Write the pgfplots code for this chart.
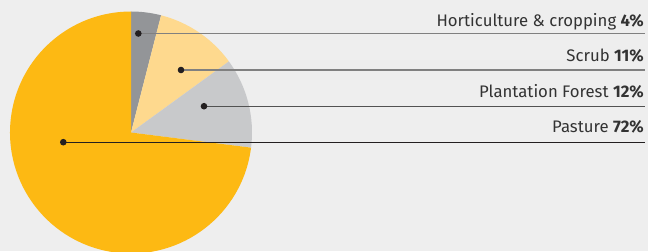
\documentclass[border=0pt]{standalone}
\usepackage{pgfplots}
\pgfplotsset{compat=1.18}
\usepackage{fontspec}
\setmainfont{Fira Sans}
\definecolor{bgcol}{HTML}{EEEEEE}
\definecolor{hortcol}{HTML}{939598}
\definecolor{scrubcol}{HTML}{FED98E}
\definecolor{plantcol}{HTML}{C8C9CB}
\definecolor{pastcol}{HTML}{FDB913}
\definecolor{dotcol}{HTML}{231F20}
\definecolor{txtcol}{HTML}{333333}
\begin{document}
\begin{tikzpicture}
\begin{axis}[x=1bp, y=1bp, xmin=0, xmax=648, ymin=-251, ymax=0,
  hide axis, scale only axis, clip=true]
% background
\fill[bgcol] (axis cs:0,-251) rectangle (axis cs:648,0);
% pie slices (values in percent: 4, 11, 12, 72), clockwise from top
\fill[hortcol]  (axis cs:131,-132.5) -- ++(90:121bp) arc[start angle=90, end angle={90-3.6*4}, radius=121bp] -- cycle;
\fill[scrubcol] (axis cs:131,-132.5) -- ++({90-3.6*4}:121bp) arc[start angle={90-3.6*4}, end angle={90-3.6*15}, radius=121bp] -- cycle;
\fill[plantcol] (axis cs:131,-132.5) -- ++({90-3.6*15}:121bp) arc[start angle={90-3.6*15}, end angle={90-3.6*27}, radius=121bp] -- cycle;
\fill[pastcol]  (axis cs:131,-132.5) -- ++({90-3.6*27}:121bp) arc[start angle={90-3.6*27}, end angle={-270}, radius=121bp] -- cycle;
% leader lines with dots
\addplot[color=black!50, line width=1.3bp, mark=*, mark size=2.6bp, mark indices={1}, mark options={fill=dotcol, draw=dotcol}] coordinates {(138.3,-33.5) (644.5,-33.5)};
\addplot[color=black!50, line width=1.3bp, mark=*, mark size=2.6bp, mark indices={1}, mark options={fill=dotcol, draw=dotcol}] coordinates {(181,-70) (644.5,-70)};
\addplot[color=black!68, line width=1.3bp, mark=*, mark size=2.6bp, mark indices={1}, mark options={fill=dotcol, draw=dotcol}] coordinates {(204,-106.2) (644.5,-106.2)};
\addplot[color=dotcol, line width=1.3bp, mark=*, mark size=2.6bp, mark indices={1}, mark options={fill=dotcol, draw=dotcol}] coordinates {(63.3,-142.2) (644.5,-142.2)};
% labels
\node[anchor=base east, font=\fontsize{16.8}{19}\selectfont, text=txtcol, inner sep=0pt] at (axis cs:644,-26.5) {Horticulture \& cropping \textbf{4\%}};
\node[anchor=base east, font=\fontsize{16.8}{19}\selectfont, text=txtcol, inner sep=0pt] at (axis cs:644,-61.2) {Scrub \textbf{11\%}};
\node[anchor=base east, font=\fontsize{16.8}{19}\selectfont, text=txtcol, inner sep=0pt] at (axis cs:644,-97.6) {Plantation Forest \textbf{12\%}};
\node[anchor=base east, font=\fontsize{16.8}{19}\selectfont, text=txtcol, inner sep=0pt] at (axis cs:644,-132.7) {Pasture \textbf{72\%}};
\end{axis}
\pgfresetboundingbox
\useasboundingbox (current axis.south west) rectangle (current axis.north east);
\end{tikzpicture}
\end{document}
